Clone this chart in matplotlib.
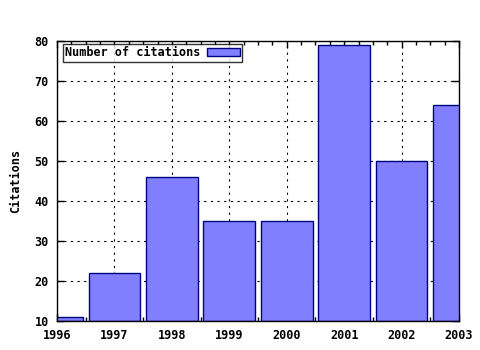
import matplotlib
matplotlib.use("Agg")
import matplotlib.pyplot as plt
from matplotlib.ticker import MultipleLocator

# data
years = [1996, 1997, 1998, 1999, 2000, 2001, 2002, 2003]
citations = [11, 22, 46, 35, 35, 79, 50, 64]

plt.rcParams['font.family'] = 'DejaVu Sans Mono'
plt.rcParams['font.weight'] = 'bold'
plt.rcParams['axes.labelweight'] = 'bold'
plt.rcParams['font.size'] = 8.5

fig = plt.figure(figsize=(4.8, 3.5), dpi=100)
ax = fig.add_axes([57 / 480, 1 - 321 / 350, 402 / 480, 280 / 350])

ax.bar(years, [c - 10 for c in citations], bottom=10, width=0.9,
       color='#8080ff', edgecolor='#000080', linewidth=1,
       label='Number of citations', zorder=2)

ax.set_xlim(1996, 2003)
ax.set_ylim(10, 80)
ax.xaxis.set_minor_locator(MultipleLocator(0.25))
ax.yaxis.set_major_locator(MultipleLocator(10))
ax.set_xticks(years)
ax.set_xticklabels([str(y) for y in years])
ax.tick_params(which='both', direction='in', top=True, right=True, pad=6)
ax.tick_params(which='major', length=5, width=1)
ax.tick_params(which='minor', length=3, width=1)
ax.grid(True, which='major', color='black', linestyle=(0, (2, 4)), linewidth=0.8, zorder=0)
ax.set_axisbelow(True)
for s in ax.spines.values():
    s.set_linewidth(1)
    s.set_zorder(3)

ax.set_ylabel('Citations', labelpad=9)

leg = ax.legend(loc='upper left', bbox_to_anchor=(6 / 402, 1 - 3 / 280),
                borderaxespad=0, frameon=True, fancybox=False,
                handlelength=2.8, handleheight=0.6, markerfirst=False,
                borderpad=0.2, handletextpad=0.5)
leg.get_frame().set_edgecolor('black')
leg.get_frame().set_linewidth(1)
leg.set_zorder(5)

fig.savefig('out.png', dpi=100, facecolor='white')
